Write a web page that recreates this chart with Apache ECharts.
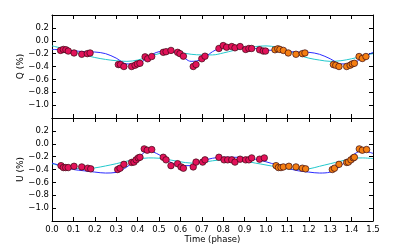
<!DOCTYPE html>
<html><head><meta charset="utf-8">
<script src="https://cdn.jsdelivr.net/npm/echarts@6/dist/echarts.min.js"></script>
<style>html,body{margin:0;padding:0;background:#fff}#c{width:415px;height:248px}</style>
</head><body><div id="c"></div>
<script>
// ---- data ----
var xTicks = ['0.0','0.1','0.2','0.3','0.4','0.5','0.6','0.7','0.8','0.9','1.0','1.1','1.2','1.3','1.4','1.5'];
var yTicks = ['0.2','0.0','−0.2','−0.4','−0.6','−0.8','−1.0'];

// Q panel, first cycle (magenta) and second cycle (orange)
var qPhaseA = [0.040,0.053,0.065,0.076,0.103,0.139,0.165,0.178,0.310,0.320,0.336,0.372,0.388,0.399,0.411,0.435,0.447,0.466,
               0.520,0.533,0.556,0.587,0.598,0.614,0.660,0.673,0.700,0.715,0.780,0.800,0.816,0.840,0.855,0.879,0.905,0.920,0.933,0.970,0.987,0.998];
var qValA   = [-0.15,-0.135,-0.14,-0.16,-0.19,-0.21,-0.20,-0.19,-0.37,-0.37,-0.40,-0.40,-0.38,-0.36,-0.35,-0.25,-0.28,-0.245,
               -0.18,-0.17,-0.15,-0.18,-0.20,-0.24,-0.40,-0.37,-0.28,-0.24,-0.12,-0.075,-0.10,-0.09,-0.11,-0.09,-0.135,-0.12,-0.12,-0.14,-0.16,-0.16];
var qPhaseB = [1.042,1.055,1.065,1.081,1.104,1.140,1.170,1.182,1.315,1.326,1.341,1.377,1.393,1.403,1.413,1.435,1.450,1.467];
var qValB   = [-0.14,-0.125,-0.135,-0.15,-0.19,-0.21,-0.20,-0.19,-0.37,-0.38,-0.40,-0.40,-0.38,-0.36,-0.35,-0.245,-0.275,-0.245];

// U panel
var uPhaseA = [0.042,0.053,0.064,0.076,0.103,0.139,0.167,0.181,0.307,0.318,0.336,0.372,0.383,0.393,0.403,0.411,0.431,0.445,0.466,
               0.520,0.533,0.556,0.587,0.603,0.614,0.660,0.673,0.704,0.715,0.780,0.804,0.821,0.840,0.855,0.879,0.905,0.920,0.933,0.970,0.992];
var uValA   = [-0.34,-0.37,-0.37,-0.37,-0.35,-0.36,-0.38,-0.39,-0.40,-0.38,-0.32,-0.29,-0.285,-0.25,-0.22,-0.21,-0.08,-0.10,-0.09,
               -0.21,-0.25,-0.34,-0.31,-0.36,-0.38,-0.36,-0.285,-0.285,-0.25,-0.21,-0.25,-0.25,-0.25,-0.285,-0.24,-0.25,-0.25,-0.22,-0.24,-0.22];
var uPhaseB = [1.047,1.058,1.070,1.081,1.107,1.140,1.170,1.185,1.310,1.320,1.341,1.377,1.385,1.397,1.408,1.413,1.436,1.450,1.470];
var uValB   = [-0.34,-0.37,-0.37,-0.36,-0.35,-0.36,-0.38,-0.39,-0.40,-0.38,-0.32,-0.29,-0.285,-0.25,-0.22,-0.21,-0.08,-0.10,-0.09];

// model curves
var modelPhase = [0.00,0.05,0.10,0.15,0.20,0.25,0.30,0.35,0.40,0.45,0.50,0.55,0.60,0.65,0.70,0.75,0.80,0.85,0.90,0.95,
                  1.00,1.05,1.10,1.15,1.20,1.25,1.30,1.35,1.40,1.45,1.50];
var qBlue = [-0.135,-0.14,-0.155,-0.17,-0.175,-0.20,-0.27,-0.36,-0.36,-0.25,-0.17,-0.16,-0.22,-0.32,-0.29,-0.17,-0.10,-0.09,-0.10,-0.12,
             -0.145,-0.15,-0.165,-0.175,-0.18,-0.21,-0.28,-0.36,-0.36,-0.26,-0.18];
var qCyan = [-0.08,-0.12,-0.17,-0.22,-0.26,-0.29,-0.31,-0.32,-0.30,-0.25,-0.20,-0.18,-0.185,-0.21,-0.22,-0.22,-0.19,-0.15,-0.11,-0.09,
             -0.08,-0.10,-0.15,-0.22,-0.27,-0.30,-0.32,-0.31,-0.28,-0.24,-0.20];
var uBlue = [-0.30,-0.35,-0.40,-0.42,-0.44,-0.455,-0.445,-0.36,-0.23,-0.11,-0.17,-0.28,-0.34,-0.34,-0.27,-0.225,-0.21,-0.21,-0.215,-0.24,
             -0.28,-0.33,-0.38,-0.42,-0.44,-0.455,-0.44,-0.34,-0.19,-0.11,-0.15];
var uCyan = [-0.31,-0.35,-0.38,-0.39,-0.375,-0.345,-0.31,-0.27,-0.24,-0.22,-0.225,-0.25,-0.28,-0.30,-0.29,-0.265,-0.25,-0.25,-0.27,-0.30,
             -0.33,-0.36,-0.39,-0.40,-0.39,-0.35,-0.31,-0.27,-0.23,-0.22,-0.23];

// ---- chart ----
function pairs(xs, ys){ return xs.map(function(x,i){ return [x, ys[i]]; }); }
var FONT = 'DejaVu Sans';
var G = [{left:52, top:15, width:321, height:103},{left:52, top:118, width:321, height:103}];
function xAx(gi, pos, labels){
  return {type:'value', gridIndex:gi, position:pos, min:0, max:1.5, interval:0.1,
    axisLine:{show:true, onZero:false, lineStyle:{color:'#000', width:1}},
    axisTick:{show:true, inside:true, length:4, lineStyle:{color:'#000'}},
    axisLabel:{show:labels, fontFamily:FONT, fontSize:8.5, color:'#000', margin:4,
      formatter:function(v){ var i=Math.round(v*10); return xTicks[i]!==undefined?xTicks[i]:''; }},
    splitLine:{show:false}};
}
function yAx(gi, pos, labels){
  return {type:'value', gridIndex:gi, position:pos, min:-1.2, max:0.4, interval:0.2,
    axisLine:{show:true, onZero:false, lineStyle:{color:'#000', width:1}},
    axisTick:{show:true, inside:true, length:4, lineStyle:{color:'#000'}},
    axisLabel:{show:labels, fontFamily:FONT, fontSize:8.5, color:'#000', margin:3, showMinLabel:false, showMaxLabel:false,
      formatter:function(v){ var i=Math.round((0.2-v)/0.2); return (i>=0&&i<yTicks.length)?yTicks[i]:''; }},
    splitLine:{show:false}};
}
function line(xi, yi, ys, color, z){
  return {type:'line', xAxisIndex:xi, yAxisIndex:yi, data:pairs(modelPhase, ys), showSymbol:false, smooth:0.35,
    lineStyle:{color:color, width:1}, z:z, silent:true, animation:false};
}
function pts(xi, yi, xs, ys, color){
  return {type:'scatter', xAxisIndex:xi, yAxisIndex:yi, data:pairs(xs, ys), symbol:'circle', symbolSize:6.5,
    itemStyle:{color:color, borderColor:'#3a0a14', borderWidth:0.7, opacity:1}, z:5, animation:false};
}
var MAG = '#e3125a', ORA = '#f57f12', BLUE = '#2b2bff', CYAN = '#22c8cc';
var chart = echarts.init(document.getElementById('c'), null, {renderer:'canvas'});
chart.setOption({
  animation:false,
  grid:G,
  xAxis:[xAx(0,'bottom',false), xAx(0,'top',false), xAx(1,'bottom',true), xAx(1,'top',false)],
  yAxis:[yAx(0,'left',true), yAx(0,'right',false), yAx(1,'left',true), yAx(1,'right',false)],
  series:[
    line(0,0,qCyan,CYAN,2), line(0,0,qBlue,BLUE,3),
    pts(0,0,qPhaseA,qValA,MAG), pts(0,0,qPhaseB,qValB,ORA),
    line(2,2,uCyan,CYAN,2), line(2,2,uBlue,BLUE,3),
    pts(2,2,uPhaseA,uValA,MAG), pts(2,2,uPhaseB,uValB,ORA)
  ],
  graphic:[
    {type:'text', x:21, y:66.5, rotation:Math.PI/2, style:{text:'Q (%)', font:'9px "DejaVu Sans"', fill:'#000', textAlign:'center', textVerticalAlign:'middle'}},
    {type:'text', x:21, y:169.5, rotation:Math.PI/2, style:{text:'U (%)', font:'9px "DejaVu Sans"', fill:'#000', textAlign:'center', textVerticalAlign:'middle'}},
    {type:'text', x:212.5, y:240, style:{text:'Time (phase)', font:'8.5px "DejaVu Sans"', fill:'#000', textAlign:'center', textVerticalAlign:'middle'}}
  ]
});
</script>
</body></html>
